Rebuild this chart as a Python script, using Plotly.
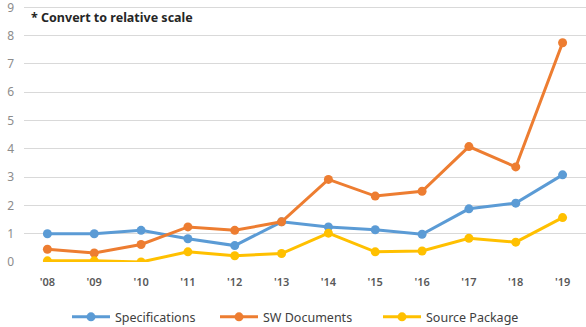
import plotly.graph_objects as go

years = ["'08", "'09", "'10", "'11", "'12", "'13", "'14", "'15", "'16", "'17", "'18", "'19"]
specifications = [1.0, 1.0, 1.12, 0.82, 0.58, 1.42, 1.24, 1.14, 0.98, 1.88, 2.08, 3.08]
sw_documents = [0.45, 0.32, 0.62, 1.24, 1.12, 1.42, 2.92, 2.33, 2.5, 4.08, 3.36, 7.75]
source_package = [0.04, 0.04, 0.0, 0.36, 0.22, 0.3, 1.02, 0.36, 0.39, 0.84, 0.7, 1.57]

series = [
    ("Specifications", specifications, "#5B9BD5"),
    ("SW Documents", sw_documents, "#ED7D31"),
    ("Source Package", source_package, "#FFC000"),
]
legend_ids = ["legend", "legend2", "legend3"]
legend_left_px = [67, 215, 378]

fig = go.Figure()
for (name, vals, color), lid in zip(series, legend_ids):
    fig.add_trace(go.Scatter(
        x=years, y=vals, name=name, mode="lines+markers",
        line=dict(color=color, width=3),
        marker=dict(color=color, size=9),
        legend=lid,
    ))

legend_common = dict(orientation="h", xref="container", yref="container", xanchor="left",
                     y=0.03, yanchor="middle", font=dict(size=12.5, color="#404040"),
                     itemwidth=38, bgcolor="rgba(0,0,0,0)")
legends = {}
for lid, px in zip(legend_ids, legend_left_px):
    legends[lid] = dict(legend_common, x=px / 586)

fig.update_layout(
    width=586, height=327,
    margin=dict(l=24, r=0, t=0, b=65, autoexpand=False),
    paper_bgcolor="white", plot_bgcolor="white",
    font=dict(family="Noto Sans, Open Sans, sans-serif", color="#595959", size=11),
    showlegend=True,
    xaxis=dict(showgrid=False, showline=False, zeroline=False, ticks="",
               ticklabelstandoff=12,
               tickfont=dict(size=11, color="#595959", weight=600), range=[-0.5, 11.5]),
    yaxis=dict(range=[0, 9.26], tickmode="array", tickvals=list(range(10)),
               showgrid=True, gridcolor="#D9D9D9", gridwidth=1, ticklabeloverflow="allow",
               zeroline=False, showline=False, ticks="", ticklabelstandoff=9,
               tickfont=dict(size=12, color="#8C8C8C")),
    annotations=[dict(text="<b>* Convert to relative scale</b>", xref="paper", yref="paper",
                      x=0.009, y=0.932, xanchor="left", yanchor="middle", showarrow=False,
                      font=dict(size=12.5, color="#262626"))],
    **legends,
)

fig.write_html("out.html")
